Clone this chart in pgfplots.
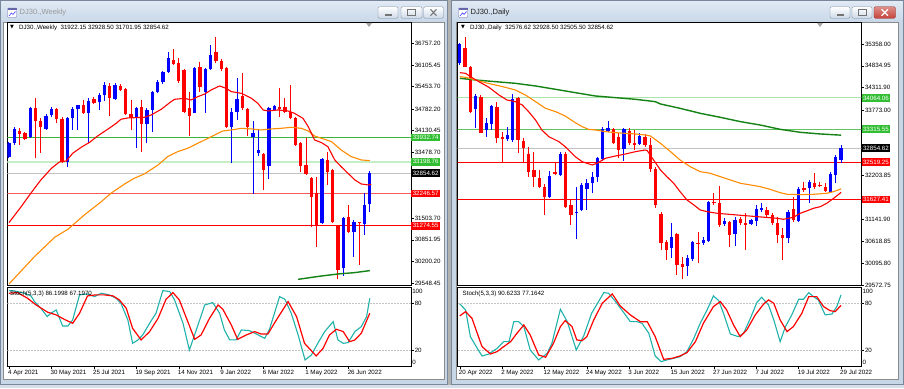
\documentclass[border=0pt]{standalone}
\usepackage{pgfplots}
\pgfplotsset{compat=1.18}
\usepackage{pgfplotstable}
\usepackage{fontspec}
\setmainfont{Liberation Sans}
\newfontfamily\dv{DejaVu Sans}
\newcommand\tk{\fontsize{6.2}{7}\selectfont}
\definecolor{cB}{RGB}{0,0,255}
\definecolor{cR}{RGB}{255,0,0}
\definecolor{cOr}{RGB}{255,140,0}
\definecolor{cGd}{RGB}{20,130,20}
\definecolor{cTeal}{RGB}{32,178,170}
\definecolor{cLvl}{RGB}{195,195,195}
\definecolor{cGr}{RGB}{60,180,60}
\definecolor{cGl}{RGB}{198,238,198}
\definecolor{cGl2}{RGB}{170,228,170}
\definecolor{cRl}{RGB}{245,90,90}
\definecolor{boxG}{RGB}{50,190,50}
\definecolor{mdi}{RGB}{214,223,233}
\definecolor{winframe}{RGB}{200,215,232}
\definecolor{titletop}{RGB}{226,235,245}
\definecolor{winedge}{RGB}{120,136,154}
\definecolor{btnbot}{RGB}{205,217,231}
\definecolor{closered}{RGB}{199,67,58}
\tikzset{lbl/.style={anchor=west, inner xsep=1.5bp, inner ysep=0.5bp, font=\tk, text=white, minimum height=7.6bp}}
\pgfplotsset{
 mt/.style={scale only axis, width=403.8bp, clip mode=individual, enlargelimits=false,
  axis line style={black, line width=0.6bp},
  tick style={black, line width=0.5bp},
  major tick length=2.5bp, tick align=outside,
  ytick pos=right, yticklabel pos=right, xtick pos=bottom,
  ticklabel style={font=\tk, text=black},
  yticklabel style={anchor=west, inner sep=0bp, xshift=1bp},
  xticklabel style={anchor=north west, inner sep=0bp, xshift=-1bp, yshift=-1.2bp},
  scaled y ticks=false, scaled x ticks=false},
 wick/.style={draw=none, mark=none, forget plot, error bars/.cd, y dir=plus, y explicit, error mark=none, error bar style={draw=#1, line width=1bp, solid}},
 body/.style={draw=none, mark=none, forget plot, error bars/.cd, y dir=plus, y explicit, error mark=none, error bar style={draw=#1, line width=3.3bp, solid}},
}
\begin{document}
\pgfplotstableread{
i o h l c
0 33352 33803 33302 33753
1 33773 34253 33702 34193
4 33933 34834 33903 34804
7 34193 34634 34153 34574
8 34594 34834 34534 34774
11 33202 34534 33032 34504
12 34524 34834 34153 34774
13 34774 34914 34153 34894
15 34654 35104 33753 35014
17 35004 35254 34754 35194
18 35204 35605 35024 35495
20 35074 35555 35054 35495
24 34504 34854 33602 34804
26 34333 34804 33753 34744
27 34754 35325 34103 35305
28 35305 35655 35254 35605
29 35585 35935 35535 35885
30 35895 36506 35875 36306
35 34674 36036 34654 36016
37 35285 36006 34674 35976
38 35985 36706 35955 36406
42 34253 34804 33152 34704
43 34704 35705 34454 35074
46 33953 34434 32231 34053
47 33452 34153 33372 33552
49 33072 34834 32671 34804
50 34754 34904 34734 34874
59 31349 33302 31329 33272
63 29998 31550 29777 31500
65 31079 31450 30348 31380
67 31329 32251 30999 31900
68 31922.15 32928.50 31701.95 32854.62
}\wkU
\pgfplotstableread{
i o h l c
2 34133 34203 33702 34033
3 34053 34103 33853 33893
5 34804 35104 33302 34434
6 34434 34504 33472 34253
9 34784 34824 34353 34474
10 34474 34534 33172 33192
14 34894 35054 34634 34654
16 35074 35154 34934 34974
19 35475 35555 34574 35124
21 35475 35535 35335 35355
22 35375 35405 34614 34634
23 34634 35054 34153 34504
25 34834 35054 33502 34333
31 36266 36576 36106 36146
32 36156 36306 35555 35635
33 35955 35976 34674 34704
34 34814 35305 33973 34574
36 36036 36206 35305 35455
39 36486 36957 36156 36236
40 36236 36276 35935 35976
41 36006 36036 34203 34233
44 35174 35855 34754 34804
45 34774 34804 33973 34253
48 33432 33472 32351 32951
51 34834 35405 34554 34774
52 34834 35104 34674 34704
53 34704 35505 34474 34504
54 34504 34534 33672 33702
55 33773 33803 32901 33072
56 33102 33903 32801 32831
57 32721 32751 31229 32150
58 32251 32751 30648 31269
60 33252 33502 32501 32901
61 32951 32972 31370 31399
62 31269 31299 29667 29948
64 31530 31900 31049 31079
66 31380 31390 30098 31349
}\wkD
\pgfplotstableread{
i v
0 31370
2.3 31850
4.2 32271
6 32651
8 33002
9.5 33192
10.8 33222
12 33452
13.6 33632
15.2 33783
16.7 33973
18.6 34173
20.2 34353
21.1 34474
22.4 34514
25.5 34534
26.8 34604
28.7 34774
30.3 34974
31.2 35074
33.1 35104
34.3 35054
35.6 35154
36.9 35234
38.1 35355
39.7 35475
40.9 35405
41.9 35305
43.8 35254
45.7 35104
46.9 34954
47.9 34754
48.8 34724
50.7 34754
52.6 34724
53.8 34654
55.4 34504
56.4 34253
57.6 33853
58.9 33773
60.1 33652
61.4 33252
62.6 33052
63.9 32851
65.2 32651
66.4 32531
67.7 32501
68.3 32521
}\wkRed
\pgfplotstableread{
i v
0 29527
1 29697
4.8 30348
8.6 30929
11.1 31169
14.2 31600
17.4 32000
19.2 32251
21.8 32531
23.6 32701
25.5 32831
28.1 33102
29.9 33352
31.8 33502
33.7 33602
35.6 33753
37.5 33903
39.4 34053
40.3 34123
41.9 34153
43.8 34203
45.8 34183
47.5 34153
49.4 34183
51.3 34203
53.2 34233
55.1 34203
56.4 34123
57.6 33973
58.9 33903
60.8 33803
62.6 33552
64.5 33352
66.4 33252
68 33232
}\wkOr
\pgfplotstableread{
i v
54.5 29667
58.9 29767
62 29827
65.1 29867
68 29928
}\wkGr
\pgfplotstableread{
i k
0 96.1
1.0 95.7
2.9 92.7
4.15 89.3
4.8 82.1
6.0 73.6
7.2 62.9
7.9 67.2
8.9 71.4
10.1 51.0
11.1 51.0
12.0 58.7
13.3 90.6
14.8 91.8
16.1 88.4
17.4 92.7
18.9 90.6
20.2 86.3
21.1 79.9
22.4 58.7
23.3 28.9
24.3 33.2
25.2 39.5
26.5 54.4
27.7 67.2
29.0 96.1
30.3 94.8
31.2 84.2
32.8 54.4
34.0 20.4
35.3 45.9
36.9 77.8
38.4 80.8
39.7 67.2
40.6 45.9
41.6 33.2
42.8 33.2
43.8 45.9
45.3 45.1
46.6 40.8
48.2 35.3
49.1 46.8
51.0 88.4
52.0 85.0
53.2 67.2
54.5 39.5
55.8 7.7
57.0 14.0
58.2 28.9
59.5 43.8
61.1 56.5
62.0 33.2
63.0 28.9
63.9 29.8
65.2 43.8
66.4 50.2
67.4 62.9
68.0 86.2
}\wkK
\pgfplotstableread{
i d
0 92.7
1.6 93.5
3.5 86.3
5.1 77.8
7.3 68.5
8.9 65.1
10.4 59.5
12.0 54.4
13.3 67.2
14.8 89.3
16.4 90.6
18.0 90.6
19.6 89.3
20.8 84.2
22.1 73.6
23.3 48.0
24.9 33.2
26.5 43.8
28.1 60.8
29.6 85.0
30.9 93.5
32.1 84.2
33.7 56.5
35.0 34.0
36.2 39.5
37.8 60.8
39.4 77.8
40.3 72.3
41.9 52.3
43.1 34.0
44.7 39.5
46.3 43.8
47.5 40.8
48.8 40.8
50.4 58.7
52.6 82.1
54.2 62.9
55.7 28.9
57.9 12.8
59.2 22.5
60.4 39.5
61.7 46.8
63.0 43.8
64.2 31.0
65.2 33.2
66.4 41.7
68.0 67.2
}\wkDd
\pgfplotstableread{
i o h l c
0 34894 35374 34854 35358
3 33790 34158 33350 34110
5 33294 33574 33134 33454
6 33438 33894 33294 33870
9 33070 33374 33038 33174
10 33054 34158 33014 34030
17 31694 32318 31654 32190
19 32214 32774 32190 32718
22 31294 31934 30670 31334
23 31374 32014 31358 31974
24 31870 32110 31374 32030
25 32014 32294 31774 32158
26 32158 32654 32054 32614
27 32590 33358 32558 33310
28 33278 33518 33254 33334
31 32830 33334 32558 33310
34 32958 33214 32934 33150
40 30454 31070 30214 30734
43 30030 30294 29790 30214
44 30190 30638 30158 30614
46 30574 30734 30534 30654
47 30638 31598 30614 31574
50 31038 31174 30990 31118
52 30798 31198 30510 31134
55 31038 31150 31014 31134
56 31118 31494 30990 31390
57 31374 31550 31334 31414
62 30694 31374 30574 31334
64 31118 31918 31094 31870
66 31894 32094 31550 32054
70 31814 32294 31790 32238
71 32214 32694 32014 32638
72 32576.62 32928.50 32505.50 32854.62
}\dyU
\pgfplotstableread{
i o h l c
1 35254 35534 34798 34814
2 34798 34830 33694 33734
4 34094 34134 33214 33230
7 33838 33974 32974 33094
8 33134 33254 32494 33070
11 34054 34094 32734 33054
12 33038 33094 32494 32854
13 32718 32894 32174 32294
14 32334 32774 31934 32158
15 32134 32334 31894 31934
16 31918 31998 31254 31694
18 32294 32534 32206 32238
20 32718 32774 31414 31454
21 31494 31614 31014 31254
29 33310 33334 32958 32990
30 33118 33214 32614 32814
32 33278 33334 32934 32974
33 32990 33294 32814 32934
35 33134 33198 32894 32934
36 32934 33094 32294 32350
37 32350 32398 31414 31494
38 31278 31334 30414 30574
39 30614 30654 30174 30414
41 30798 30830 29814 30054
42 30070 30254 29710 29998
45 30590 30854 30094 30558
48 31574 31774 31494 31534
49 31534 31950 30974 31014
51 31094 31118 30494 30774
53 31150 31198 31014 31054
54 31054 31310 30414 31022
58 31374 31454 31214 31254
59 31254 31310 31014 31054
60 31070 31214 30574 30774
61 30774 30934 30174 30694
63 31390 31678 31094 31134
65 31894 32054 31814 31854
67 32030 32254 31870 31918
68 31974 32054 31918 31950
69 31918 32014 31806 31838
}\dyD
\pgfplotstableread{
i v
0 34670
1.1 34654
2 34574
3.6 34454
5.5 34318
7.4 34134
8.9 34014
10.5 33974
11.8 33894
13 33734
14.3 33534
15.5 33294
16.8 33134
18.7 33014
19.9 32894
21.8 32654
23.1 32534
25 32454
25.9 32494
27.5 32614
29.4 32670
31.3 32718
33.2 32774
35 32814
35.4 32798
36.6 32574
37.9 32334
39.1 32174
40.4 32014
41.6 31814
42.9 31614
44.2 31494
45.4 31374
46.7 31334
48.6 31294
52.3 31254
56.1 31214
59.9 31174
61.1 31150
63 31198
64.3 31294
65.5 31350
66.8 31414
68.1 31454
69.3 31534
70.6 31654
71.8 31774
72 31800
}\dyRed
\pgfplotstableread{
i v
0 34574
1.1 34558
3.0 34494
4.8 34430
6.7 34374
8.6 34318
10.5 34254
12.4 34134
14.3 33974
16.2 33814
18.1 33734
19.9 33630
21.8 33470
23.1 33374
24.3 33310
25.6 33294
27.5 33254
29.4 33230
31.3 33214
33.2 33198
35.0 33174
36.0 33150
37.9 32974
39.8 32774
41.6 32574
43.5 32414
45.4 32294
47.3 32254
49.2 32174
51.1 32094
53.0 32014
54.9 31974
56.7 31934
58.6 31870
60.5 31790
61.8 31750
64.3 31742
66.8 31750
69.3 31774
70.6 31814
72 31880
}\dyOr
\pgfplotstableread{
i v
0 34534
3.0 34494
6.7 34454
10.5 34414
14.3 34350
18.1 34270
21.8 34190
25.6 34110
29.4 34070
33.2 34030
36.9 33974
37.9 33918
41.6 33814
45.4 33694
49.2 33598
53.0 33494
56.7 33414
60.5 33310
64.3 33238
68.1 33198
72 33170
}\dyGr
\pgfplotstableread{
i k
0 79.1
1.1 71.4
2.0 37.4
3.3 22.5
4.2 12.8
5.5 15.3
7.05 22.5
8.3 31.0
9.3 31.0
10.2 56.5
11.1 56.5
12.1 50.2
13.3 20.4
14.9 7.7
16.5 16.2
17.4 28.9
19.0 72.3
20.3 56.5
22.0 20.4
23.4 38.3
24.9 67.2
26.2 82.1
27.2 93.5
28.1 92.7
29.4 82.1
30.6 71.4
32.2 56.5
33.5 56.5
34.4 54.4
35.7 41.7
36.9 12.8
38.0 5.5
39.1 7.7
40.4 9.8
41.6 11.9
42.9 18.3
44.2 35.3
45.4 54.4
46.7 71.4
47.9 89.3
48.9 83.3
49.8 67.2
51.1 40.8
52.6 37.4
53.6 41.7
54.8 59.5
56.1 80.8
57.0 87.6
58.3 77.8
59.3 58.7
60.5 31.0
61.5 50.2
62.7 65.1
64.0 85.0
64.9 85.0
65.9 93.5
66.8 88.4
67.7 84.2
69.0 65.1
70.3 66.3
71.2 75.7
72.0 90.6
}\dyK
\pgfplotstableread{
i d
0 63.8
1.1 69.3
2.3 60.8
3.3 41.7
4.2 24.7
5.8 15.3
7.05 18.3
8.3 24.7
9.6 31.0
10.8 41.7
12.1 52.3
13.3 39.5
14.9 14.0
16.2 11.1
17.7 28.9
19.0 50.2
19.9 57.8
21.2 50.2
22.1 33.2
23.1 32.3
24.0 37.4
25.3 58.7
26.9 79.9
28.8 91.8
30.3 76.5
32.2 65.1
34.1 56.5
35.4 56.5
36.9 37.4
38.5 8.5
40.1 9.8
41.6 12.8
42.9 17.0
44.5 31.0
46.0 54.4
47.9 75.7
49.2 82.1
50.4 71.4
51.7 52.3
52.96 37.4
54.2 45.9
55.8 65.1
57.4 79.1
58.3 84.2
59.3 79.9
60.5 58.7
61.8 43.8
63.0 50.2
64.6 67.2
65.9 88.4
67.4 88.4
68.7 75.7
69.9 70.6
70.9 69.3
72.0 77.2
}\dyDd
\begin{tikzpicture}[x=1bp,y=1bp]
\path[use as bounding box] (0,0) rectangle (904,388);
\fill[mdi] (0,0) rectangle (904,388);
% ---- left window chrome
\fill[winframe] (0,3) rectangle (448,388);
\fill[top color=titletop, bottom color=winframe] (0,366) rectangle (448,388);
\draw[winedge, line width=0.8bp] (0.4,3.4) rectangle (447.6,387.6);
\fill[white] (3,9) rectangle (444.5,366);
\draw[black!45, line width=0.5bp] (3,9) rectangle (444.5,366);
\draw[rounded corners=0.8bp, draw=black!50!blue!60, fill=white] (7.5,370.5) rectangle (16.5,380);
\fill[blue!45!black!60] (7.5,378) rectangle (16.5,380);
\draw[blue!70, line width=0.7bp] (9,372) -- (11.5,375) -- (13,373.5) -- (15.5,376.5);
\node[anchor=west, inner sep=0bp, font=\fontsize{7.6}{9}\selectfont, text=black!40] at (19.5,375.2) {DJ30.,Weekly};
\foreach \a/\b in {378/398,401/422,423.5/443.5}{
 \draw[rounded corners=1.5bp, draw=winedge, top color=white, bottom color=btnbot] (\a,369.7) rectangle (\b,381.3);}
\fill[black!55] (385,372.3) rectangle (391.5,374.3);
\draw[black!55, line width=0.7bp] (407.5,372.3) rectangle (415.5,378.5);
\draw[black!55, line width=1.4bp] (407.5,378.2) -- (415.5,378.2);
\draw[black!55, line width=1bp] (430.5,372.3) -- (436.5,378.7) (430.5,378.7) -- (436.5,372.3);
% ---- right window chrome
\fill[black!30] (448,3) rectangle (451,388);
\fill[winframe] (451,3) rectangle (904,388);
\fill[top color=titletop, bottom color=winframe] (451,366) rectangle (904,388);
\draw[winedge, line width=0.8bp] (451.4,3.4) rectangle (903.6,387.6);
\fill[white] (456,9) rectangle (898.5,366);
\draw[black!45, line width=0.5bp] (456,9) rectangle (898.5,366);
\draw[rounded corners=0.8bp, draw=black!50!blue!60, fill=white] (458.5,370.5) rectangle (467.5,380);
\fill[blue!45!black!60] (458.5,378) rectangle (467.5,380);
\draw[blue!70, line width=0.7bp] (460,372) -- (462.5,375) -- (464,373.5) -- (466.5,376.5);
\node[anchor=west, inner sep=0bp, font=\fontsize{7.6}{9}\selectfont, text=black!88] at (470.5,375.2) {DJ30.,Daily};
\foreach \a/\b in {830/850,852/872}{
 \draw[rounded corners=1.5bp, draw=winedge, top color=white, bottom color=btnbot] (\a,369.7) rectangle (\b,381.3);}
\draw[rounded corners=1.5bp, draw=closered!70!black, top color=closered!60!white, bottom color=closered] (874,369.7) rectangle (895.5,381.3);
\fill[black!55] (837,372.3) rectangle (843.5,374.3);
\draw[black!55, line width=0.7bp] (858.5,372.3) rectangle (866.5,378.5);
\draw[black!55, line width=1.4bp] (858.5,378.2) -- (866.5,378.2);
\draw[white, line width=1.3bp] (881.5,372.3) -- (888,378.7) (881.5,378.7) -- (888,372.3);

% ================= LEFT WEEKLY MAIN
\begin{axis}[mt, at={(7.3bp,103bp)}, anchor=south west, height=263bp,
  xmin=-0.32, xmax=75.79, ymin=29496, ymax=37396.5, xtick=\empty,
  ytick={36757.20,36105.45,35453.70,34782.20,34130.45,33478.70,31503.70,30851.95,30200.20,29548.45},
  yticklabels={36757.20,36105.45,35453.70,34782.20,34130.45,33478.70,31503.70,30851.95,30200.20,29548.45}]
\addplot[cGr, line width=0.8bp, forget plot] coordinates {(-2,33932.74) (80,33932.74)};
\addplot[cGl, line width=2.2bp, forget plot] coordinates {(-2,33198.76) (80,33198.76)};
\addplot[cLvl, line width=0.8bp, forget plot] coordinates {(-2,32854.62) (80,32854.62)};
\addplot[cRl, line width=0.8bp, forget plot] coordinates {(-2,32246.57) (80,32246.57)};
\addplot[cR, line width=0.8bp, forget plot] coordinates {(-2,31274.55) (80,31274.55)};
\addplot[wick=cB] table[x=i, y=l, y error plus expr=\thisrow{h}-\thisrow{l}] {\wkU};
\addplot[wick=cR] table[x=i, y=l, y error plus expr=\thisrow{h}-\thisrow{l}] {\wkD};
\addplot[body=cB] table[x=i, y=o, y error plus expr=\thisrow{c}-\thisrow{o}] {\wkU};
\addplot[body=cR] table[x=i, y=c, y error plus expr=\thisrow{o}-\thisrow{c}] {\wkD};
\addplot[cOr, line width=1.1bp] table[x=i, y=v] {\wkOr};
\addplot[cR, line width=1.1bp] table[x=i, y=v] {\wkRed};
\addplot[cGd, line width=1.4bp] table[x=i, y=v] {\wkGr};
\node[lbl, fill=boxG] at (axis cs:75.79,33932.74) {33932.74};
\node[lbl, fill=boxG] at (axis cs:75.79,33198.76) {33198.76};
\node[lbl, fill=black] at (axis cs:75.79,32854.62) {32854.62};
\node[lbl, fill=cR] at (axis cs:75.79,32246.57) {32246.57};
\node[lbl, fill=cR] at (axis cs:75.79,31274.55) {31274.55};
\end{axis}
\node[anchor=west, inner sep=0bp, font=\dv\fontsize{5}{6}\selectfont] at (10,360.3) {▼};
\node[anchor=west, inner sep=0bp, font=\tk] at (19,360.2) {DJ30.,Weekly\ \ 31922.15 32928.50 31701.95 32854.62};
\fill[black!35] (366,365) -- (372,365) -- (369,361) -- cycle;

% ================= LEFT STOCH
\begin{axis}[mt, at={(7.3bp,22bp)}, anchor=south west, height=78.5bp,
  xmin=-0.32, xmax=75.79, ymin=0, ymax=100,
  xtick={0,8,16,24,32,40,48,56,64},
  xticklabels={4 Apr 2021,30 May 2021,25 Jul 2021,19 Sep 2021,14 Nov 2021,9 Jan 2022,6 Mar 2022,1 May 2022,26 Jun 2022},
  ytick={20,80}, yticklabels={20,80},
  extra y ticks={95,5}, extra y tick labels={100,0},
  extra y tick style={major tick length=0bp}]
\addplot[cLvl, line width=0.5bp, dash pattern=on 1.5bp off 1.5bp, forget plot] coordinates {(-2,80) (80,80)};
\addplot[cLvl, line width=0.5bp, dash pattern=on 1.5bp off 1.5bp, forget plot] coordinates {(-2,20) (80,20)};
\addplot[cTeal, line width=1.1bp] table[x=i, y=k] {\wkK};
\addplot[cR, line width=1.2bp] table[x=i, y=d] {\wkDd};
\end{axis}
\node[anchor=west, inner sep=0bp, font=\tk] at (10,94.5) {Stoch(5,3,3) 86.1998 67.1970};

% ================= RIGHT DAILY MAIN
\begin{axis}[mt, at={(457.5bp,103bp)}, anchor=south west, height=263bp,
  xmin=-0.43, xmax=75.83, ymin=29572.8, ymax=35886, xtick=\empty,
  ytick={35358.00,34834.95,34311.90,33773.00,32203.85,31141.90,30618.85,30095.80,29572.75},
  yticklabels={35358.00,34834.95,34311.90,33773.00,32203.85,31141.90,30618.85,30095.80,29572.75}]
\addplot[cGl2, line width=0.8bp, forget plot] coordinates {(-2,34064.06) (80,34064.06)};
\addplot[cGr!80!white, line width=0.8bp, forget plot] coordinates {(-2,33315.55) (80,33315.55)};
\addplot[cLvl, line width=0.8bp, forget plot] coordinates {(-2,32854.62) (80,32854.62)};
\addplot[cR, line width=0.8bp, forget plot] coordinates {(-2,32519.25) (80,32519.25)};
\addplot[cR, line width=0.8bp, forget plot] coordinates {(-2,31627.41) (80,31627.41)};
\addplot[wick=cB] table[x=i, y=l, y error plus expr=\thisrow{h}-\thisrow{l}] {\dyU};
\addplot[wick=cR] table[x=i, y=l, y error plus expr=\thisrow{h}-\thisrow{l}] {\dyD};
\addplot[body=cB] table[x=i, y=o, y error plus expr=\thisrow{c}-\thisrow{o}] {\dyU};
\addplot[body=cR] table[x=i, y=c, y error plus expr=\thisrow{o}-\thisrow{c}] {\dyD};
\addplot[cGd, line width=1.4bp] table[x=i, y=v] {\dyGr};
\addplot[cOr, line width=1.1bp] table[x=i, y=v] {\dyOr};
\addplot[cR, line width=1.1bp] table[x=i, y=v] {\dyRed};
\node[lbl, fill=boxG] at (axis cs:75.83,34064.06) {34064.06};
\node[lbl, fill=boxG] at (axis cs:75.83,33315.55) {33315.55};
\node[lbl, fill=black] at (axis cs:75.83,32854.62) {32854.62};
\node[lbl, fill=cR] at (axis cs:75.83,32519.25) {32519.25};
\node[lbl, fill=cR] at (axis cs:75.83,31627.41) {31627.41};
\end{axis}
\node[anchor=west, inner sep=0bp, font=\dv\fontsize{5}{6}\selectfont] at (461,360.3) {▼};
\node[anchor=west, inner sep=0bp, font=\tk] at (470,360.2) {DJ30.,Daily\ \ 32576.62 32928.50 32505.50 32854.62};
\fill[black!35] (817,365) -- (823,365) -- (820,361) -- cycle;

% ================= RIGHT STOCH
\begin{axis}[mt, at={(457.5bp,22bp)}, anchor=south west, height=78.5bp,
  xmin=-0.43, xmax=75.83, ymin=0, ymax=100,
  xtick={0,8,16,24,32,40,48,56,64,72},
  xticklabels={20 Apr 2022,2 May 2022,12 May 2022,24 May 2022,3 Jun 2022,15 Jun 2022,27 Jun 2022,7 Jul 2022,19 Jul 2022,29 Jul 2022},
  ytick={20,80}, yticklabels={20,80},
  extra y ticks={95,5}, extra y tick labels={100,0},
  extra y tick style={major tick length=0bp}]
\addplot[cLvl, line width=0.5bp, dash pattern=on 1.5bp off 1.5bp, forget plot] coordinates {(-2,80) (80,80)};
\addplot[cLvl, line width=0.5bp, dash pattern=on 1.5bp off 1.5bp, forget plot] coordinates {(-2,20) (80,20)};
\addplot[cTeal, line width=1.1bp] table[x=i, y=k] {\dyK};
\addplot[cR, line width=1.2bp] table[x=i, y=d] {\dyDd};
\end{axis}
\node[anchor=west, inner sep=0bp, font=\tk] at (462.5,94.5) {Stoch(5,3,3) 90.6233 77.1642};
\end{tikzpicture}
\end{document}
